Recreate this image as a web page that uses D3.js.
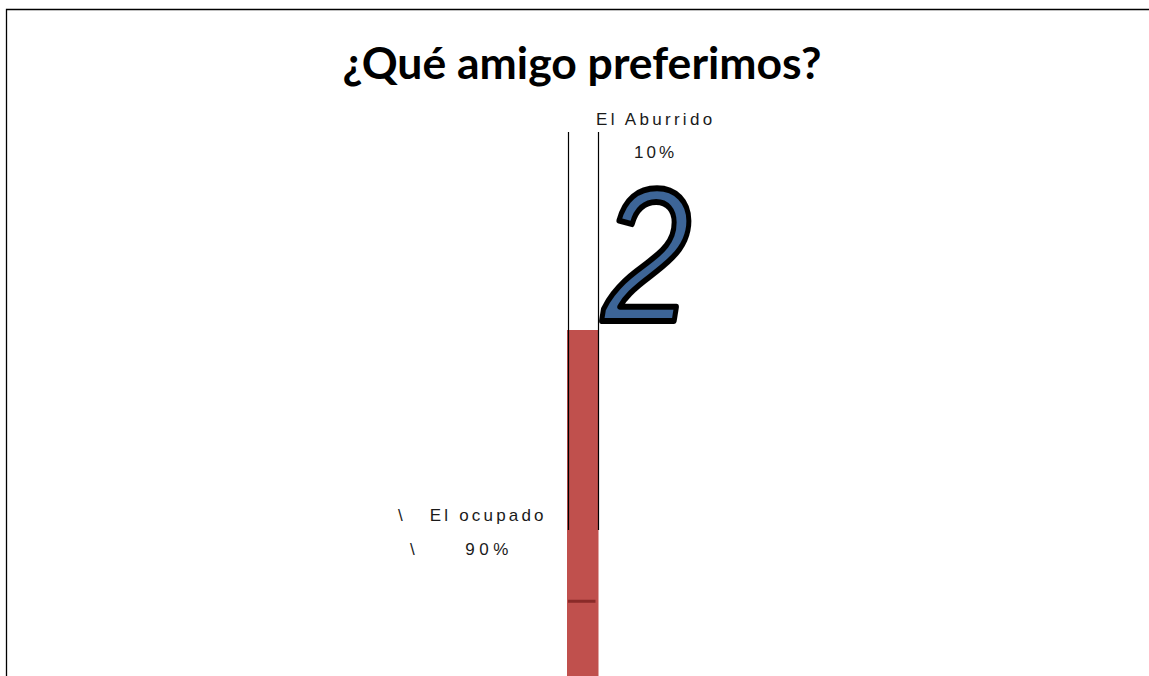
<!DOCTYPE html>
<html>
<head>
<meta charset="utf-8">
<script src="https://cdn.jsdelivr.net/npm/d3@7"></script>
<style>
  body { margin: 0; background: #fff; }
  svg { display: block; }
  .lbl { font-family: "Liberation Sans", Arial, sans-serif; font-size: 17px; fill: #1a1a1a; white-space: pre; }
</style>
</head>
<body>
<script>
const width = 1149,
      height = 676;

// data
const title = "¿Qué amigo preferimos?";
const categories = ["El Aburrido", "El ocupado"];
const percents = [10, 90];
const countLabels = ["2"];
const colors = ["#3d6597", "#c0504d"];

const svg = d3.select("body")
    .append("svg")
    .attr("width", width)
    .attr("height", height);

// chart area border (only top + left visible)
svg.append("path")
    .attr("d", `M6.5,${height} L6.5,9.5 L${width},9.5`)
    .attr("fill", "none")
    .attr("stroke", "#000")
    .attr("stroke-width", 1.3);

svg.append("text")
    .attr("x", 582)
    .attr("y", 79)
    .attr("text-anchor", "middle")
    .attr("font-family", "Lato, 'Open Sans', sans-serif")
    .attr("font-weight", "bold")
    .attr("font-size", 44.5)
    .attr("fill", "#000")
    .text(title);

// one squashed column
const x = d3.scaleBand()
    .domain(["col"])
    .range([567, 598.5])
    .padding(0);

// length scale: percent -> px
const h = d3.scaleLinear()
    .domain([0, 90])
    .range([0, 398]);

const frameTop = 132,
      barTop = 330;

// red bar for El ocupado
svg.append("rect")
    .attr("x", x("col"))
    .attr("y", barTop)
    .attr("width", x.bandwidth())
    .attr("height", h(percents[1]))
    .attr("fill", colors[1]);

// dark streak inside the bar
svg.append("rect")
    .attr("x", x("col") + 1)
    .attr("y", barTop + h(61))
    .attr("width", x.bandwidth() - 4)
    .attr("height", 3)
    .attr("fill", "#8a2b29");

// frame sides
svg.selectAll("line.side")
    .data([x("col") + 1.5, x("col") + x.bandwidth()])
    .enter().append("line")
    .attr("class", "side")
    .attr("x1", d => d)
    .attr("x2", d => d)
    .attr("y1", frameTop)
    .attr("y2", frameTop + h(percents[1]))
    .attr("stroke", "#000")
    .attr("stroke-width", 1.2);

// big count label (narrowed italic, outlined)
svg.append("text")
    .attr("transform", `translate(${x("col") + x.bandwidth() + 4},321) scale(0.84,1)`)
    .attr("font-family", "'Liberation Sans', sans-serif")
    .attr("font-style", "italic")
    .attr("font-size", 190)
    .attr("fill", colors[0])
    .attr("stroke", "#000")
    .attr("stroke-width", 6)
    .attr("stroke-linejoin", "round")
    .text(countLabels[0]);

// labels
const gTop = svg.append("g");
gTop.append("text").attr("class", "lbl")
    .attr("x", 596).attr("y", 125)
    .attr("letter-spacing", 3.3)
    .text(categories[0]);
gTop.append("text").attr("class", "lbl")
    .attr("x", 634).attr("y", 158)
    .attr("letter-spacing", 3)
    .text(percents[0] + "%");

const gLow = svg.append("g");
gLow.append("text").attr("class", "lbl")
    .attr("x", 398).attr("y", 521)
    .attr("letter-spacing", 3.2)
    .text("\\   " + categories[1]);
gLow.append("text").attr("class", "lbl")
    .attr("x", 410).attr("y", 555)
    .attr("letter-spacing", 4.5)
    .text("\\     " + percents[1] + "%");
</script>
</body>
</html>
